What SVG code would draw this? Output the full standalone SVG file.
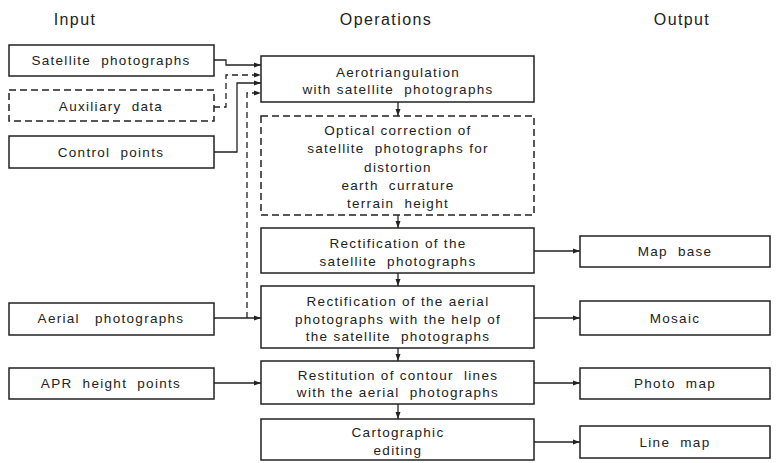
<svg xmlns="http://www.w3.org/2000/svg" width="778" height="463" viewBox="0 0 778 463">
<style>
.box{fill:#fff;stroke:#222;stroke-width:1.5}
.dash{fill:#fff;stroke:#222;stroke-width:1.5;stroke-dasharray:7 4}
text{font-family:"Liberation Sans",Arial,sans-serif;font-size:13.5px;letter-spacing:1.3px;fill:#222;text-anchor:middle;white-space:pre}
.hd{font-size:16px;letter-spacing:1.4px}
.c{fill:none;stroke:#222;stroke-width:1.3}
.cd{fill:none;stroke:#222;stroke-width:1.3;stroke-dasharray:6 4}
</style>
<defs>
<marker id="ah" markerWidth="8" markerHeight="6" refX="7" refY="3" orient="auto" markerUnits="userSpaceOnUse">
<path d="M0,0.5 L7,3 L0,5.5 Z" fill="#222"/>
</marker>
</defs>
<rect width="778" height="463" fill="#fff"/>
<g id="headers">
<text class="hd" x="75" y="25">Input</text>
<text class="hd" x="386" y="25">Operations</text>
<text class="hd" x="682" y="25">Output</text>
</g>
<g id="connectors">
<path class="c" d="M214,60 H226 V65 H261" marker-end="url(#ah)"/>
<path class="cd" d="M214,107 H226 V75 H261" marker-end="url(#ah)"/>
<path class="c" d="M214,152 H237 V83 H261" marker-end="url(#ah)"/>
<path class="cd" d="M247,318 V93 H261" marker-end="url(#ah)"/>
<path class="c" d="M214,318 H261" marker-end="url(#ah)"/>
<path class="c" d="M214,383 H261" marker-end="url(#ah)"/>
<path class="c" d="M398,102 V116" marker-end="url(#ah)"/>
<path class="c" d="M398,215 V228" marker-end="url(#ah)"/>
<path class="c" d="M398,273 V286" marker-end="url(#ah)"/>
<path class="c" d="M398,348 V361" marker-end="url(#ah)"/>
<path class="c" d="M398,404 V419" marker-end="url(#ah)"/>
<path class="c" d="M534,251 H580" marker-end="url(#ah)"/>
<path class="c" d="M534,318 H580" marker-end="url(#ah)"/>
<path class="c" d="M534,383 H580" marker-end="url(#ah)"/>
<path class="c" d="M534,442 H580" marker-end="url(#ah)"/>
</g>
<g id="in-satellite"><rect class="box" x="9" y="45" width="205" height="31"/><text x="111" y="65">Satellite  photographs</text></g>
<g id="in-auxiliary"><rect class="dash" x="9" y="90" width="205" height="31"/><text x="111" y="111">Auxiliary  data</text></g>
<g id="in-control"><rect class="box" x="9" y="136" width="205" height="32"/><text x="111" y="157">Control  points</text></g>
<g id="in-aerial"><rect class="box" x="9" y="303" width="205" height="32"/><text x="111" y="323">Aerial   photographs</text></g>
<g id="in-apr"><rect class="box" x="9" y="368" width="205" height="31"/><text x="111" y="388">APR  height  points</text></g>
<g id="op-aero"><rect class="box" x="261" y="56" width="273" height="46"/><text x="398" y="77">Aerotriangulation</text><text x="398" y="94">with satellite  photographs</text></g>
<g id="op-optical"><rect class="dash" x="261" y="116" width="273" height="99"/><text x="398" y="135">Optical correction of</text><text x="398" y="153">satellite  photographs for</text><text x="398" y="172">distortion</text><text x="398" y="190">earth  currature</text><text x="398" y="208">terrain  height</text></g>
<g id="op-rectsat"><rect class="box" x="261" y="228" width="273" height="45"/><text x="398" y="248">Rectification of the</text><text x="398" y="266">satellite  photographs</text></g>
<g id="op-rectaer"><rect class="box" x="261" y="286" width="273" height="62"/><text x="398" y="306">Rectification of the aerial</text><text x="398" y="324">photographs with the help of</text><text x="398" y="341">the satellite  photographs</text></g>
<g id="op-restitution"><rect class="box" x="261" y="361" width="273" height="43"/><text x="398" y="380">Restitution of contour  lines</text><text x="398" y="397">with the aerial  photographs</text></g>
<g id="op-carto"><rect class="box" x="261" y="419" width="273" height="41"/><text x="398" y="437">Cartographic</text><text x="398" y="455">editing</text></g>
<g id="out-mapbase"><rect class="box" x="580" y="236" width="190" height="31"/><text x="675" y="256">Map  base</text></g>
<g id="out-mosaic"><rect class="box" x="580" y="301" width="190" height="34"/><text x="675" y="323">Mosaic</text></g>
<g id="out-photomap"><rect class="box" x="580" y="368" width="190" height="31"/><text x="675" y="388">Photo  map</text></g>
<g id="out-linemap"><rect class="box" x="580" y="426" width="190" height="32"/><text x="675" y="447">Line  map</text></g>
</svg>
